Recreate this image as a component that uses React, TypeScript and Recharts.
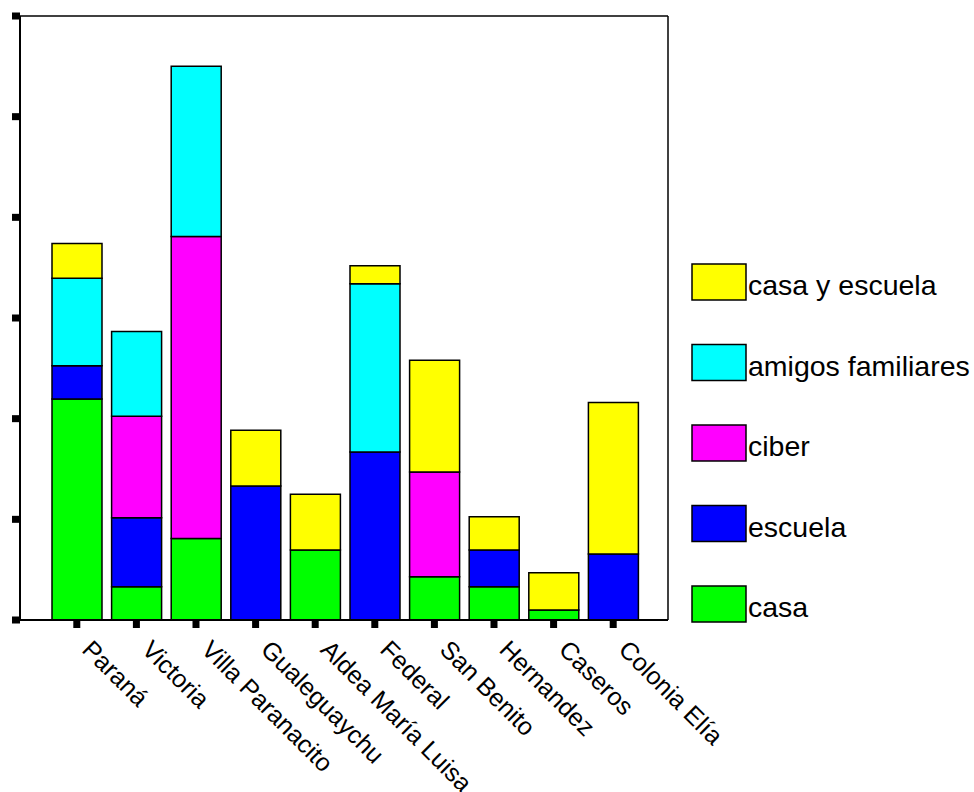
import React from "react";
import { Bar, BarChart, ReferenceLine, XAxis, YAxis } from "recharts";

// values (one tick = 10 units)
const categories = ["Paraná", "Victoria", "Villa Paranacito", "Gualeguaychu", "Aldea María Luisa", "Federal", "San Benito", "Hernandez", "Caseros", "Colonia Elía"];
const casa = [21.95, 3.3, 8.1, 0, 6.95, 0, 4.3, 3.3, 1.0, 0];
const escuela = [3.3, 6.85, 0, 13.3, 0, 16.7, 0, 3.65, 0, 6.55];
const ciber = [0, 10.1, 30.0, 0, 0, 0, 10.4, 0, 0, 0];
const amigosFamiliares = [8.7, 8.4, 16.9, 0, 0, 16.7, 0, 0, 0, 0];
const casaYEscuela = [3.45, 0, 0, 5.55, 5.55, 1.8, 11.1, 3.3, 3.7, 15.05];
const yTicks = [0, 10, 20, 30, 40, 50, 60];

const data = categories.map((name, i) => ({
  name,
  casa: casa[i],
  escuela: escuela[i],
  ciber: ciber[i],
  amigos: amigosFamiliares[i],
  casaEscuela: casaYEscuela[i],
}));

const series = [
  { key: "casa", label: "casa", color: "#00FF00" },
  { key: "escuela", label: "escuela", color: "#0000FF" },
  { key: "ciber", label: "ciber", color: "#FF00FF" },
  { key: "amigos", label: "amigos familiares", color: "#00FFFF" },
  { key: "casaEscuela", label: "casa y escuela", color: "#FFFF00" },
];

const font = "Arial, 'Liberation Sans', sans-serif";

function XTick(props: any) {
  const { x, y, payload } = props;
  return (
    <g>
      <rect x={x - 3.5} y={y + 1} width={7} height={7} fill="#000" />
      <text transform={`translate(${x + 4},${y + 31}) rotate(45)`} fontSize={25} fontFamily={font} fill="#000">
        {payload.value}
      </text>
    </g>
  );
}

function YTick(props: any) {
  const { x, y } = props;
  return <rect x={x - 8} y={y - 3.5} width={8} height={7} fill="#000" />;
}

function LegendBox() {
  const items = [...series].reverse();
  return (
    <svg width={974} height={792} style={{ position: "absolute", left: 0, top: 0, pointerEvents: "none" }}>
      {items.map((s, i) => {
        const cy = 282 + i * 80.5;
        return (
          <g key={s.key}>
            <rect x={692} y={cy - 18} width={54} height={36} fill={s.color} stroke="#000" strokeWidth={1.5} />
            <text x={748} y={cy + 13} fontSize={28.5} fontFamily={font} fill="#000">
              {s.label}
            </text>
          </g>
        );
      })}
    </svg>
  );
}

export default function App() {
  return (
    <div style={{ position: "absolute", left: 0, top: 0, width: 974, height: 792, background: "#fff" }}>
      <BarChart width={974} height={792} data={data} margin={{ top: 16, right: 305, bottom: 171, left: 19 }} barSize={50}>
        <XAxis
          dataKey="name"
          height={1}
          interval={0}
          padding={{ left: 27, right: 25 }}
          tickSize={0}
          tickMargin={0}
          tickLine={false}
          axisLine={{ stroke: "#000", strokeWidth: 2 }}
          tick={<XTick />}
        />
        <YAxis
          width={1}
          domain={[0, 60]}
          ticks={yTicks}
          tickSize={0}
          tickMargin={0}
          tickLine={false}
          axisLine={{ stroke: "#000", strokeWidth: 2 }}
          tick={<YTick />}
        />
        <YAxis
          yAxisId="right"
          orientation="right"
          width={1}
          domain={[0, 60]}
          tick={false}
          tickLine={false}
          axisLine={{ stroke: "#000", strokeWidth: 1.5 }}
        />
        <ReferenceLine y={60} stroke="#000" strokeWidth={1.5} ifOverflow="visible" />
        {series.map((s) => (
          <Bar key={s.key} dataKey={s.key} name={s.label} stackId="a" fill={s.color} stroke="#000" strokeWidth={1.5} isAnimationActive={false} />
        ))}
      </BarChart>
      <LegendBox />
    </div>
  );
}
